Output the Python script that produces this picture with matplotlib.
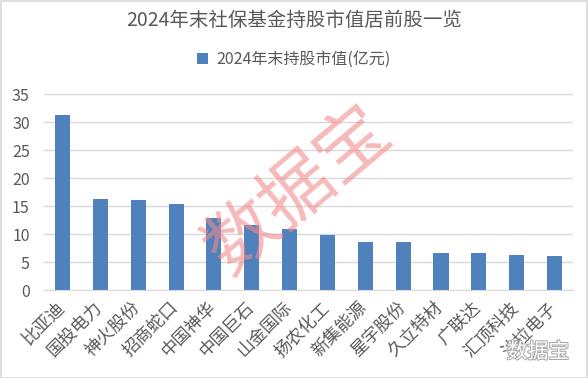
import matplotlib
matplotlib.use("Agg")
import matplotlib.pyplot as plt
import matplotlib.patheffects as pe
import matplotlib.transforms as mtransforms
from matplotlib.patches import Rectangle

plt.rcParams["font.family"] = ["Noto Sans CJK SC", "DejaVu Sans"]

# data
stocks = ["比亚迪", "国投电力", "神火股份", "招商蛇口", "中国神华", "中国巨石", "山金国际",
          "扬农化工", "新集能源", "星宇股份", "久立特材", "广联达", "汇顶科技", "法拉电子"]
values = [31.3, 16.3, 16.1, 15.4, 12.9, 11.6, 10.9, 9.8, 8.6, 8.6, 6.6, 6.6, 6.3, 6.1]
yticks = [0, 5, 10, 15, 20, 25, 30, 35]

title = "2024年末社保基金持股市值居前股一览"
series_name = "2024年末持股市值(亿元)"

bar_color = "#4F81BD"
text_color = "#595959"
grid_color = "#D9D9D9"

fig = plt.figure(figsize=(5.88, 3.78), dpi=100)
ax = fig.add_axes([0.0742, 0.2328, 0.901, 0.5177])

x = range(len(stocks))
ax.bar(x, values, width=0.4, color=bar_color, label=series_name, zorder=2)

ax.set_xlim(-0.5, len(stocks) - 0.5)
ax.set_ylim(0, 35)
ax.set_yticks(yticks)
ax.yaxis.grid(True, color=grid_color, linewidth=1, zorder=0)
for s in ["top", "right", "left"]:
    ax.spines[s].set_visible(False)
ax.spines["bottom"].set_color(grid_color)
ax.tick_params(axis="both", length=0, colors=text_color, labelsize=11.5)
ax.tick_params(axis="y", pad=10)
ax.set_xticks(list(x))
ax.set_xticklabels(stocks, rotation=45, ha="right", rotation_mode="anchor",
                   fontsize=12.5, color=text_color)
ax.tick_params(axis="x", pad=4)
# nudge the rotated labels a bit left/down like the original
shift = mtransforms.ScaledTranslation(-7 / 100, -3 / 100, fig.dpi_scale_trans)
for lab in ax.get_xticklabels():
    lab.set_transform(lab.get_transform() + shift)

fig.text(0.5, 0.945, title, ha="center", va="center", fontsize=14, color=text_color)
fig.legend(loc="center", bbox_to_anchor=(0.5, 0.843), frameon=False, fontsize=11.5,
           labelcolor=text_color, handlelength=0.7, handleheight=0.7, handletextpad=0.5)

# watermark
fig.text(0.507, 0.495, "数据宝", ha="center", va="center", fontsize=52, rotation=40,
         color="#F28B8B", alpha=0.6)
fig.text(0.915, 0.069, "数据宝", ha="center", va="center", fontsize=15, color="white",
         path_effects=[pe.withStroke(linewidth=1.5, foreground="#A8A8A8")])

# outer border
fig.patches.append(Rectangle((0.001, 0.001), 0.997, 0.997, transform=fig.transFigure,
                             fill=False, edgecolor="#D9D9D9", linewidth=1.2))

fig.savefig("out.png", dpi=100)
